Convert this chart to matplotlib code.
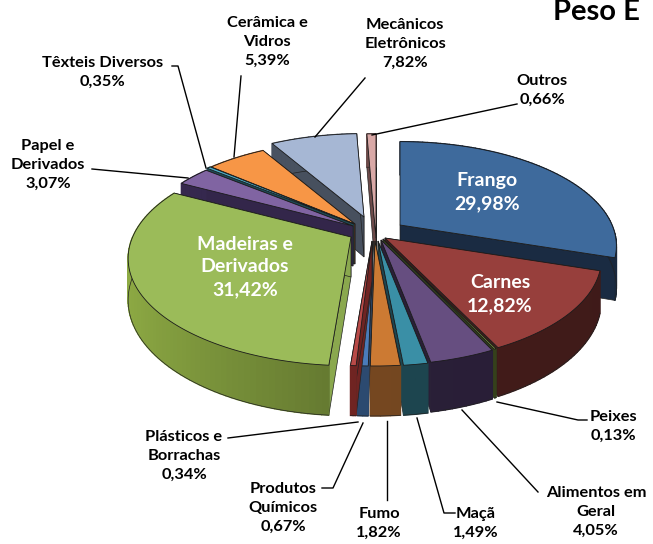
import numpy as np
import matplotlib
matplotlib.use("Agg")
import matplotlib.pyplot as plt
from matplotlib.patches import Polygon

plt.rcParams['font.family'] = ['Lato', 'DejaVu Sans']

# dados, sentido horario a partir do topo
nomes = ["Frango", "Carnes", "Peixes", "Alimentos em\nGeral", "Maçã", "Fumo",
         "Produtos\nQuímicos", "Plásticos e\nBorrachas", "Madeiras e\nDerivados",
         "Papel e\nDerivados", "Têxteis Diversos", "Cerâmica e\nVidros",
         "Mecânicos\nEletrônicos", "Outros"]
valores = [29.98, 12.82, 0.13, 4.05, 1.49, 1.82, 0.67, 0.34, 31.42, 3.07, 0.35, 5.39, 7.82, 0.66]

cor_topo = ["#3e6a9c", "#973f3c", "#7a9a3c", "#664e80", "#3a8fa6", "#cc7a33", "#4a7cba",
            "#b84a47", "#9bbb59", "#8064a2", "#4bacc6", "#f79646", "#a6b7d4", "#d9a8a6"]
cor_lado = ["#1a2b42", "#431c1a", "#36421c", "#2a1f38", "#1d4650", "#754720", "#2c4a70",
            "#6f2422", "#62762f", "#33264a", "#1d4a55", "#7a4419", "#47505e", "#6d4a49"]

# posicao do vertice de cada fatia (explosao), em pixels
vertice = [(400, 225), (385, 238), (383, 239), (381, 240), (378, 241), (375, 241), (373, 241),
           (372, 241), (351, 237), (353, 226), (354, 224), (355, 224), (364, 217), (376, 238)]
escala = [1, 1, 1, 1, 1, 1, 1, 1, 1.03, 1, 1, 1, 1, 1.25]
ordem = [13, 12, 0, 11, 10, 9, 8, 1, 2, 3, 4, 5, 6, 7]

A, B, K, ALTURA = 212, 100, 0.2, 40


def ponto(ap, ang, r=1.0, esc=1.0):
    x = r * np.sin(ang)
    y = r * np.cos(ang)
    s = 1 / (1 + K * y)
    return ap[0] + esc * A * x * s, ap[1] - esc * B * y * s


def altura(ang, r=1.0):
    return ALTURA / (1 + K * r * np.cos(ang))


fig = plt.figure(figsize=(6.53, 5.44), dpi=100)
ax = fig.add_axes([0, 0, 1, 1])
ax.set_xlim(0, 653)
ax.set_ylim(544, 0)
ax.axis("off")

fracao = np.array(valores) / sum(valores) * 2 * np.pi
inicio = np.concatenate([[0], np.cumsum(fracao)[:-1]])

z = 1
for i in ordem:
    ap, esc = vertice[i], escala[i]
    a0, a1 = inicio[i], inicio[i] + fracao[i]
    angs = np.linspace(a0, a1, max(3, int(fracao[i] * 40)))
    base = np.array(matplotlib.colors.to_rgb(cor_lado[i]))

    # faces de corte
    for a in (a0, a1):
        px, py = ponto(ap, a, 1, esc)
        h0, h1 = ALTURA, altura(a)
        face = [ap, (px, py), (px, py + h1), (ap[0], ap[1] + h0)]
        cor_face = "#8aa84e" if i == 8 else base
        ax.add_patch(Polygon(face, closed=True, facecolor=cor_face, edgecolor="#222222", lw=0.5, zorder=z))

    # parede externa com leve degrade
    for a, b in zip(angs[:-1], angs[1:]):
        p, q = ponto(ap, a, 1, esc), ponto(ap, b, 1, esc)
        meio = (a + b) / 2
        if i == 8:
            f = 1 + 0.45 * max(-np.sin(meio), 0)
        else:
            f = 1 - 0.06 * np.sin(meio)
        c = np.clip(base * f, 0, 1)
        seg = [p, q, (q[0], q[1] + altura(b)), (p[0], p[1] + altura(a))]
        ax.add_patch(Polygon(seg, closed=True, facecolor=c, edgecolor=c, lw=1.0, zorder=z))
    fundo = [ponto(ap, a, 1, esc) for a in angs]
    ax.plot([p[0] for p in fundo], [p[1] + altura(a) for p, a in zip(fundo, angs)],
            color="#222222", lw=0.5, zorder=z)

    # topo
    topo = [ap] + fundo
    ax.add_patch(Polygon(topo, closed=True, facecolor=cor_topo[i], edgecolor="#1a1a1a", lw=0.6, zorder=z + 0.5))
    z += 1

# linhas de chamada
linhas = [
    [(497, 402), (578, 420), (587, 420)],
    [(462, 410), (538, 492)],
    [(417, 418), (444, 513), (455, 513)],
    [(387, 421), (387, 500)],
    [(363, 423), (333, 488), (322, 488)],
    [(358, 422), (228, 438)],
    [(188, 178), (92, 169)],
    [(206, 168), (178, 66), (172, 66)],
    [(234, 157), (241, 76)],
    [(315, 137), (365, 78)],
    [(372, 135), (517, 104)],
]
for ln in linhas:
    ax.plot([p[0] for p in ln], [p[1] for p in ln], color="black", lw=1.0, zorder=z)

# rotulos
pos_rotulo = [(487, 192), (500, 294), (613, 426), (596, 512), (476, 523), (379, 523),
              (283, 508), (184, 456), (245, 267), (48, 165), (103, 72), (267, 42),
              (405, 44), (542, 90)]
for i, (x, y) in enumerate(pos_rotulo):
    txt = nomes[i] + "\n" + f"{valores[i]:.2f}".replace(".", ",") + "%"
    dentro = i in (0, 1, 8)
    ax.text(x, y, txt, ha="center", va="center", fontweight="bold", linespacing=1.42,
            color="white" if dentro else "black", fontsize=14 if dentro else 11.8, zorder=z + 1)

ax.text(553, 20, "Peso E", ha="left", va="baseline", fontweight="bold", fontsize=21, color="black")

fig.savefig("out.png", dpi=100)
